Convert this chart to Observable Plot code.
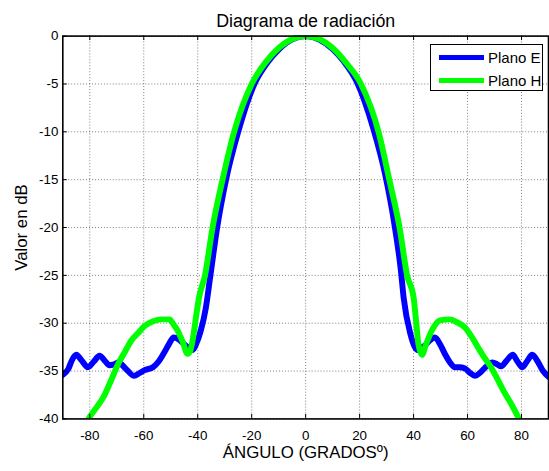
<!DOCTYPE html>
<html>
<head>
<meta charset="utf-8">
<script src="https://cdn.jsdelivr.net/npm/d3@7"></script>
<script src="https://cdn.jsdelivr.net/npm/@observablehq/plot@0.6"></script>
<style>
  html, body { margin: 0; padding: 0; background: #fff; overflow: hidden; }
  #chart { position: relative; width: 549px; height: 471px; overflow: hidden; }
  #chart svg { display: block; }
  .legend {
    position: absolute; left: 430px; top: 44px; width: 113px; height: 47px;
    box-sizing: border-box; border: 1px solid #000; background: #fff;
    font-family: "Liberation Sans", Arial, sans-serif; font-size: 15px; color: #000;
  }
  .legend .row { position: absolute; left: 8px; height: 18px; display: flex; align-items: center; }
  .legend .swatch { width: 45px; height: 5px; margin-right: 4px; }
</style>
</head>
<body>
<div id="chart"></div>
<script>
// Radiation pattern, E-plane (blue) and H-plane (green), in dB versus angle in degrees
const anglesE = [-90, -88, -86.5, -85, -83, -80.7, -78.5, -76.4, -74.5, -72.7, -71, -69.4, -66.5, -63.6, -61.5,
  -59.7, -56.6, -54.5, -52.3, -50.5, -48.9, -47, -45, -43.3, -41.9, -40.5, -38.9, -37, -35.3, -32.8, -29.5,
  -25, -19, -14, -10, -5, 0, 5, 10, 14, 19, 25, 29.5, 32.8, 35.3, 36.3, 38.8, 40.3, 41.5, 42.8, 44.3, 46,
  47.9, 49.8, 51.6, 53.5, 55.3, 57, 58.9, 61, 62.9, 64.5, 66.3, 69.3, 71, 72.4, 74.5, 76.7, 78.5, 80.3,
  82, 84, 86, 88, 90];
const dbE = [-35.4, -34.8, -33.8, -33.3, -33.9, -34.6, -34.0, -33.4, -33.9, -34.4, -34.3, -34.1, -34.8, -35.5, -35.2,
  -34.9, -34.6, -34.0, -33.0, -32.1, -31.5, -31.7, -32.2, -32.6, -32.8, -32.1, -30.8, -28.4, -25, -20, -15,
  -10, -5, -2.7, -1.4, -0.35, 0, -0.35, -1.35, -2.6, -4.8, -9.6, -14.5, -19.5, -24.5, -27.3, -31.1, -32.4, -32.8, -32.6, -32.3, -31.8,
  -31.5, -32.2, -33.2, -34.1, -34.6, -34.6, -34.7, -35.2, -35.5, -35.2, -34.7, -34.1, -34.3, -34.5, -33.9, -33.3, -34.0, -34.6,
  -34.0, -33.3, -34.0, -35.0, -35.6];

const anglesH = [-82, -80.5, -77.5, -74.9, -72, -69.4, -67, -64.6, -62, -59.7, -56.5, -53.6, -50.5, -49, -47.4, -45.5,
  -43.8, -42.8, -41.9, -40.3, -39.5, -37.3, -34.5, -30.8, -26.5, -20, -15, -10, -5, 0, 5, 10, 15, 20.5, 27,
  31, 34.8, 37.6, 40, 41, 41.8, 43.1, 44.5, 46.7, 49.8, 53.4, 56, 58.9, 61.5, 63.8, 66, 68.7, 71, 73.6,
  76.5, 79.1, 80.5];
const dbH = [-40.8, -40, -38.8, -37.7, -35.9, -34.2, -33.0, -31.8, -31.0, -30.3, -29.8, -29.6, -29.6, -30.1, -30.8, -32.0,
  -33.2, -32.9, -31.8, -28.7, -27.3, -25, -20, -15, -10, -5, -2.8, -1.25, -0.3, 0, -0.3, -1.25, -2.8, -5, -10,
  -15, -20, -25, -27.3, -30.0, -32.2, -33.3, -32.3, -30.8, -29.7, -29.6, -29.9, -30.4, -31.4, -32.5, -33.5, -34.6, -35.8, -37.2,
  -38.6, -40, -40.8];

const seriesNames = ["Plano E", "Plano H"];
const seriesColors = ["#0000ff", "#00ff00"];

const xTicks = [-80, -60, -40, -20, 0, 20, 40, 60, 80];
const yTicks = [0, -5, -10, -15, -20, -25, -30, -35, -40];

const titleText = "Diagrama de radiación";
const xLabel = "ÁNGULO (GRADOSº)";
const yLabel = "Valor en dB";

const rowsE = anglesE.map((a, i) => ({angle: a, db: dbE[i], serie: seriesNames[0]}));
const rowsH = anglesH.map((a, i) => ({angle: a, db: dbH[i], serie: seriesNames[1]}));

const W = 555, H = 471;
const mTop = 36, mBottom = 48, mLeft = 63, mRight = 1;
const innerW = W - mLeft - mRight, innerH = H - mTop - mBottom;
const tickLen = 4.5;
const font = "'Liberation Sans', Arial, Helvetica, sans-serif";
const fmt = d => String(d);
const gridStyle = {stroke: "#222", strokeOpacity: 0.75, strokeWidth: 0.8, strokeDasharray: "1,2"};

const chart = Plot.plot({
  width: W,
  height: H,
  marginTop: mTop, marginBottom: mBottom, marginLeft: mLeft, marginRight: mRight,
  style: {fontFamily: font, background: "#fff", color: "#000", overflow: "visible"},
  x: {domain: [-90, 90]},
  y: {domain: [-40, 0]},
  color: {domain: seriesNames, range: seriesColors},
  marks: [
    Plot.gridX(xTicks, gridStyle),
    Plot.gridY(yTicks, gridStyle),
    Plot.line(rowsE, {x: "angle", y: "db", stroke: "serie", strokeWidth: 6, curve: "monotone-x", clip: true}),
    Plot.line(rowsH, {x: "angle", y: "db", stroke: "serie", strokeWidth: 6, curve: "monotone-x", clip: true}),
    // inward ticks on bottom, top and left edges
    Plot.ruleX(xTicks, {x: d => d, insetTop: innerH - tickLen, stroke: "#000", strokeWidth: 1}),
    Plot.ruleX(xTicks, {x: d => d, insetBottom: innerH - tickLen, stroke: "#000", strokeWidth: 1}),
    Plot.ruleY(yTicks, {y: d => d, insetRight: innerW - tickLen, stroke: "#000", strokeWidth: 1}),
    Plot.frame({stroke: "#000", strokeWidth: 1.6}),
    Plot.axisX(xTicks, {tickSize: 0, tickPadding: 12, fontSize: 13.5, tickFormat: fmt, label: null}),
    Plot.axisY(yTicks, {tickSize: 0, tickPadding: 4.5, fontSize: 13.5, tickFormat: fmt, label: null}),
    Plot.text([titleText], {text: d => d, frameAnchor: "top", textAnchor: "middle", lineAnchor: "bottom", dy: -9.5, fontSize: 18}),
    Plot.text([xLabel], {text: d => d, frameAnchor: "bottom", textAnchor: "middle", lineAnchor: "bottom", dy: 39.5, fontSize: 17}),
    Plot.text([yLabel], {text: d => d, frameAnchor: "left", textAnchor: "middle", lineAnchor: "bottom", rotate: -90, dx: -36, fontSize: 17})
  ]
});

const host = document.getElementById("chart");
host.appendChild(chart);

// legend box
const legend = document.createElement("div");
legend.className = "legend";
seriesNames.forEach((name, i) => {
  const row = document.createElement("div");
  row.className = "row";
  row.style.top = (i === 0 ? 3 : 26) + "px";
  const sw = document.createElement("span");
  sw.className = "swatch";
  sw.style.background = seriesColors[i];
  const label = document.createElement("span");
  label.textContent = name;
  row.appendChild(sw);
  row.appendChild(label);
  legend.appendChild(row);
});
host.appendChild(legend);
</script>
</body>
</html>
